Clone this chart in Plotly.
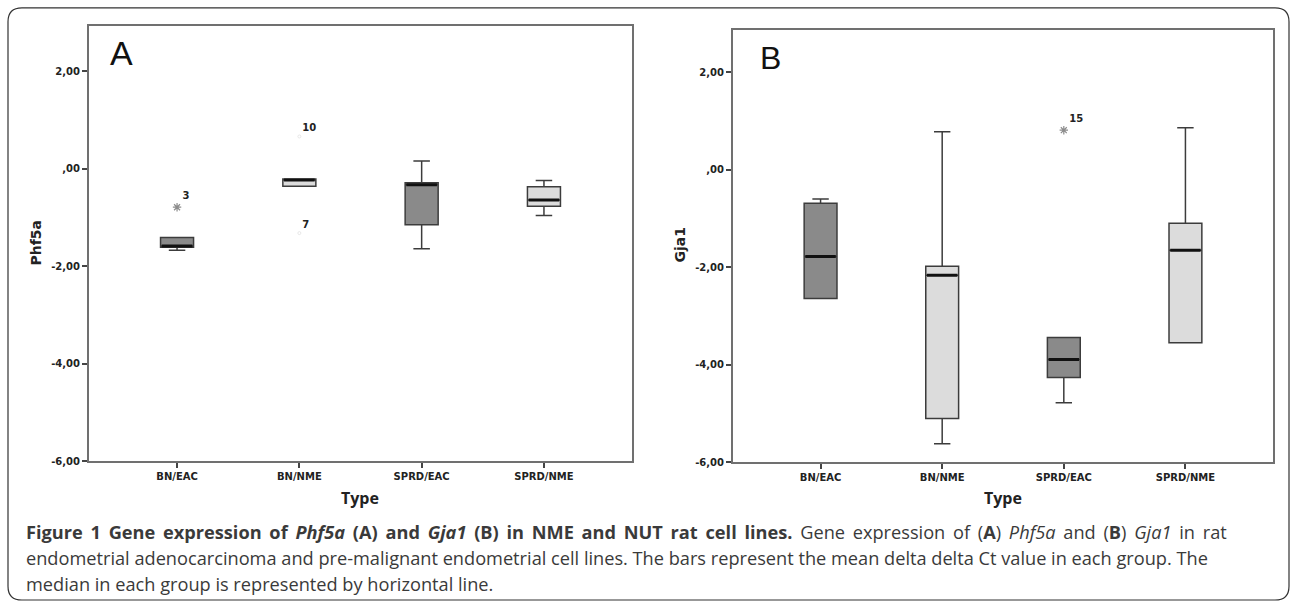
import plotly.graph_objects as go

W, H = 1292, 608

categories = ["BN/EAC", "BN/NME", "SPRD/EAC", "SPRD/NME"]
ytick_vals = [2, 0, -2, -4, -6]
ytick_text = ["2,00", ",00", "-2,00", "-4,00", "-6,00"]

# Panel A: Phf5a
phf5a_q1 = [-1.61, -0.36, -1.15, -0.77]
phf5a_median = [-1.585, -0.23, -0.33, -0.64]
phf5a_q3 = [-1.41, -0.21, -0.29, -0.37]
phf5a_lower = [-1.67, -0.36, -1.64, -0.96]
phf5a_upper = [-1.41, -0.21, 0.16, -0.24]
phf5a_out_cat = [0, 1, 1]
phf5a_out_val = [-0.79, 0.66, -1.32]
phf5a_out_lab = ["3", "10", "7"]
phf5a_out_kind = ["extreme", "mild", "mild"]

# Panel B: Gja1
gja1_q1 = [-2.64, -5.10, -4.26, -3.55]
gja1_median = [-1.78, -2.165, -3.89, -1.65]
gja1_q3 = [-0.69, -1.98, -3.44, -1.10]
gja1_lower = [-2.64, -5.62, -4.78, -3.55]
gja1_upper = [-0.60, 0.78, -3.44, 0.86]
gja1_out_cat = [2]
gja1_out_val = [0.81]
gja1_out_lab = ["15"]
gja1_out_kind = ["extreme"]

fills = ["#8a8a8a", "#dcdcdc", "#8a8a8a", "#dcdcdc"]

BOXW = 0.27
TICKFONT = "DejaVu Sans, Verdana, sans-serif"


def fx(x):
    return x / W


def fy(y):
    return 1 - y / H


fig = go.Figure()


def add_panel(xa, ya, q1, med, q3, lo, up, oc, ov, ol, ok):
    for i, c in enumerate(categories):
        fig.add_trace(go.Box(
            x=[i], q1=[q1[i]], median=[med[i]], q3=[q3[i]],
            lowerfence=[lo[i]], upperfence=[up[i]],
            width=BOXW, whiskerwidth=0.5,
            fillcolor=fills[i],
            line=dict(color="#3c3c3c", width=1.5),
            boxpoints=False, hoverinfo="skip", showlegend=False,
            xaxis=xa, yaxis=ya,
        ))
    mx, my = [], []
    hw = BOXW / 2 - 0.01
    for i in range(len(categories)):
        mx += [i - hw, i + hw, None]
        my += [med[i], med[i], None]
    fig.add_trace(go.Scatter(x=mx, y=my, mode="lines",
                             line=dict(color="#111111", width=3),
                             hoverinfo="skip", showlegend=False,
                             xaxis=xa, yaxis=ya))
    for c, v, l, k in zip(oc, ov, ol, ok):
        if k == "extreme":
            mk = dict(symbol="asterisk-open", size=7,
                      line=dict(color="#8c8c8c", width=1.2), color="#8c8c8c")
        else:
            mk = dict(symbol="circle-open", size=3,
                      line=dict(color="#e2e2e2", width=0.8), color="#e2e2e2")
        fig.add_trace(go.Scatter(
            x=[c], y=[v], mode="markers+text", text=[l],
            textposition="top right",
            textfont=dict(family=TICKFONT, size=10, color="#222222", weight="bold"),
            marker=mk, hoverinfo="skip", showlegend=False,
            xaxis=xa, yaxis=ya))


add_panel("x", "y", phf5a_q1, phf5a_median, phf5a_q3, phf5a_lower, phf5a_upper,
          phf5a_out_cat, phf5a_out_val, phf5a_out_lab, phf5a_out_kind)
add_panel("x2", "y2", gja1_q1, gja1_median, gja1_q3, gja1_lower, gja1_upper,
          gja1_out_cat, gja1_out_val, gja1_out_lab, gja1_out_kind)

tickfont = dict(family=TICKFONT, size=10, color="#222", weight="bold")
xcommon = dict(range=[-0.72, 3.72], tickvals=[0, 1, 2, 3], ticktext=categories,
               ticks="outside", ticklen=5, tickwidth=1.5, tickcolor="#444",
               showline=True, mirror=True, linecolor="#707070", linewidth=2,
               showgrid=False, zeroline=False, tickfont=tickfont)
ycommon = dict(tickvals=ytick_vals, ticktext=ytick_text,
               ticks="outside", ticklen=5, tickwidth=1.5, tickcolor="#444",
               showline=True, mirror=True, linecolor="#707070", linewidth=2,
               showgrid=False, zeroline=False, tickfont=tickfont)

fig.update_layout(
    width=W, height=H,
    margin=dict(l=0, r=0, t=0, b=0),
    paper_bgcolor="white", plot_bgcolor="white",
    xaxis=dict(domain=[fx(89), fx(632)], anchor="y", **xcommon),
    yaxis=dict(domain=[fy(466), fy(26)], anchor="x", range=[-6, 2.93], **ycommon),
    xaxis2=dict(domain=[fx(733), fx(1273)], anchor="y2", **xcommon),
    yaxis2=dict(domain=[fy(467), fy(30)], anchor="x2", range=[-6, 2.87], **ycommon),
)

# rounded outer frame
x0, y0, x1, y1 = fx(8), fy(8), fx(1289), fy(606)
rx, ry = 14 / W, 14 / H
path = (f"M {x0+rx},{y0} L {x1-rx},{y0} Q {x1},{y0} {x1},{y0-ry} "
        f"L {x1},{y1+ry} Q {x1},{y1} {x1-rx},{y1} "
        f"L {x0+rx},{y1} Q {x0},{y1} {x0},{y1+ry} "
        f"L {x0},{y0-ry} Q {x0},{y0} {x0+rx},{y0} Z")
fig.add_shape(type="path", path=path, xref="paper", yref="paper",
              line=dict(color="#333333", width=1.2), layer="below")

P = dict(xref="paper", yref="paper", showarrow=False)
ann = []
ann.append(dict(x=fx(108), y=fy(54), text="A", xanchor="left", yanchor="middle",
                font=dict(family="Liberation Sans, Arial", size=34, color="#111"), **P))
ann.append(dict(x=fx(758), y=fy(59), text="B", xanchor="left", yanchor="middle",
                font=dict(family="Liberation Sans, Arial", size=32, color="#111"), **P))
for xc, t in [(360, "Type"), (1003, "Type")]:
    ann.append(dict(x=fx(xc), y=fy(503), text=f"<b>{t}</b>",
                    xanchor="center", yanchor="middle",
                    font=dict(family="Open Sans, sans-serif", size=16, color="#222"), **P))
for xc, yc, t in [(36, 245, "Phf5a"), (680, 248, "Gja1")]:
    ann.append(dict(x=fx(xc), y=fy(yc), text=f"<b>{t}</b>",
                    textangle=-90, xanchor="center", yanchor="middle",
                    font=dict(family="DejaVu Sans, sans-serif", size=14, color="#222"), **P))

# caption (first line justified with thin spaces added between words)
JS = " \u2009"
caption_lines = [
    "<b>Figure 1 Gene expression of <i>Phf5a</i> (A) and <i>Gja1</i> (B) in NME and NUT rat cell lines.</b>"
    " Gene expression of (<b>A</b>) <i>Phf5a</i> and (<b>B</b>) <i>Gja1</i> in rat",
    "endometrial adenocarcinoma and pre-malignant endometrial cell lines. The bars represent the mean delta delta Ct value in each group. The",
    "median in each group is represented by horizontal line.",
]
caption_lines[0] = caption_lines[0].replace(" ", JS)
for yc, t in zip([537, 564, 590], caption_lines):
    ann.append(dict(x=fx(24), y=fy(yc), text=t, xanchor="left",
                    yanchor="middle", align="left",
                    font=dict(family="Open Sans, sans-serif", size=18.2, color="#3a3a3a"), **P))

fig.update_layout(annotations=ann)
fig.write_html("out.html", config={"displayModeBar": False},
               post_script="document.body.style.margin='0';")
